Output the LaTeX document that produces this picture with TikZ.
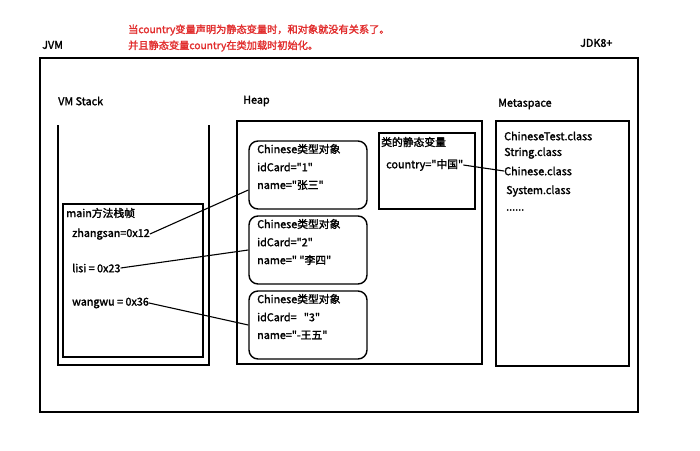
\documentclass[tikz,border=0pt]{standalone}
\usepackage{fontspec}
\setmainfont{Noto Sans CJK SC}[Ligatures=TeXOff,FakeBold=1.8]
\usetikzlibrary{positioning}
\definecolor{notered}{RGB}{225,45,45}
\begin{document}
\begin{tikzpicture}[x=1pt,y=-1pt,font=\fontsize{10.8}{13}\selectfont,
  txt/.style={anchor=west,inner sep=0pt},
  note/.style={txt,text=notered,font=\fontsize{10.2}{12}\selectfont},
  box/.style={draw,line width=1.4pt,inner sep=0pt},
  obj/.style={box,rounded corners=9pt,minimum width=118,minimum height=68},
  ref/.style={line width=1.1pt}]
\useasboundingbox (0,0) rectangle (700,450);
% notes
\node[note] (note1) at (128,30){当country变量声明为静态变量时，和对象就没有关系了。};
\node[note] (note2) at (128,46){并且静态变量country在类加载时初始化。};
\node[txt] (jvm) at (42,45){JVM};\node[txt] (jdk) at (580,43){JDK8+};
\draw[line width=1.7pt] (40,58) rectangle (638,412);
% stack
\node[txt] (stk) at (58,101){VM Stack};
\draw[line width=1.4pt] (58,125)--(58,365)--(209,365)--(209,125);
\draw[line width=1.4pt] (63,204) rectangle (203,357);
\node[txt] (frm) at (66,213){main方法栈帧};
\node[txt] (zs) at (72,234){zhangsan=0x12};
\node[txt] (ls) at (72,268){lisi = 0x23};
\node[txt] (ww) at (72,303){wangwu = 0x36};
% heap
\node[txt] (hp) at (243,101){Heap};
\draw[line width=1.4pt] (237,121) rectangle (482,364);
\foreach \n/\y/\id/\nm in {1/175/"1"/"张三",2/250/"2"/" "李四",3/325/{\ \ \ "3"}/"-王五"}{
\node[obj] (o\n) at (308,\y){};
\node[txt] (t\n) at (257,\y-26){Chinese类型对象};
\node[txt] (id\n) at (257,\y-8){idCard=\id};
\node[txt] (nm\n) at (257,\y+10){name=\nm};}
\draw[line width=1.4pt] (379,133) rectangle (475,209);
\node[txt] (stat) at (381,142){类的静态变量};
\node[txt] (cty) at (386,165){country="中国"};
% metaspace
\node[txt] (ms) at (498,104){Metaspace};
\draw[line width=1.4pt] (496,121) rectangle (629,366);
\node[txt] (c1) at (504,136){ChineseTest.class};
\node[txt] (c2) at (504,153){String.class};
\node[txt] (c3) at (504,171){Chinese.class};
\node[txt] (c4) at (506,191){System.class};
\node[txt] (c5) at (506,210){......};
% refs
\draw[ref] (zs.east)--([yshift=-15pt]o1.west);
\draw[ref] (ls.east)--(o2.west);
\draw[ref] (ww.east)--(o3.west);
\draw[ref] (cty.east)--(c3.west);
\end{tikzpicture}
\end{document}
